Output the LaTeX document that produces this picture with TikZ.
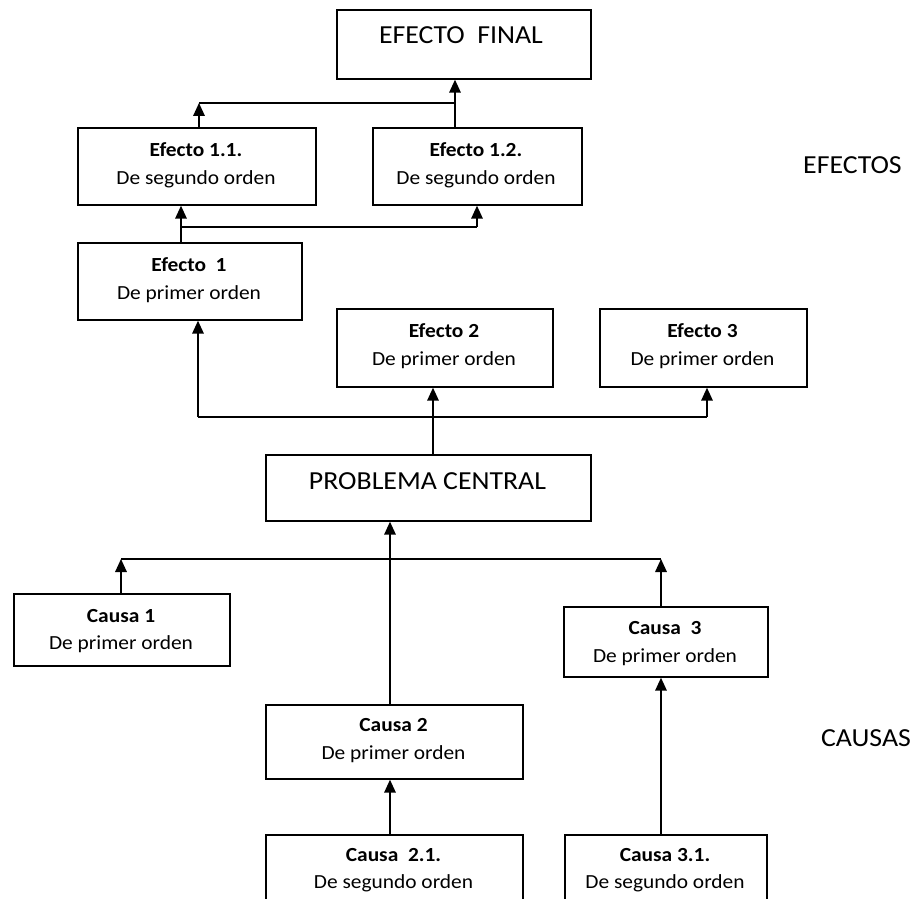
\documentclass[tikz,border=0pt]{standalone}
\usepackage{fontspec}
\setmainfont{Carlito}[FakeStretch=1.07]
\usetikzlibrary{arrows.meta}
\begin{document}
\begin{tikzpicture}[x=1pt,y=-1pt,
  box/.style={draw, line width=1.7pt, inner sep=0pt, anchor=north west},
  small/.style={font=\fontsize{20}{24}\selectfont, inner sep=0pt, anchor=base},
  smallb/.style={font=\fontsize{20}{24}\selectfont\bfseries, inner sep=0pt, anchor=base},
  big/.style={font=\fontsize{26}{30}\selectfont, inner sep=0pt, anchor=base},
  conn/.style={line width=1.7pt},
  arr/.style={line width=1.7pt, -{Triangle[length=13pt,width=11.5pt]}}]
\useasboundingbox (0,0) rectangle (914,899);
\fill[white] (0,0) rectangle (914,899);
\clip (0,0) rectangle (914,899);

% boxes
\node[box, minimum width=254pt, minimum height=69pt] (ef) at (336,9) {};
\node[box, minimum width=238pt, minimum height=77pt] (e11) at (77,127) {};
\node[box, minimum width=209pt, minimum height=77pt] (e12) at (372,127) {};
\node[box, minimum width=224pt, minimum height=77pt] (e1) at (77,242) {};
\node[box, minimum width=216pt, minimum height=78pt] (e2) at (336,308) {};
\node[box, minimum width=207pt, minimum height=78pt] (e3) at (599,308) {};
\node[box, minimum width=325pt, minimum height=66pt] (pc) at (265,454) {};
\node[box, minimum width=216pt, minimum height=72pt] (c1) at (13,593) {};
\node[box, minimum width=204pt, minimum height=70pt] (c3) at (563,606) {};
\node[box, minimum width=257pt, minimum height=74pt] (c2) at (265,704) {};
\node[box, minimum width=257pt, minimum height=78pt] (c21) at (265,834) {};
\node[box, minimum width=202pt, minimum height=78pt] (c31) at (564,834) {};

% texts
\node[big] (eft) at (461,44) {EFECTO~~FINAL};
\node[big] (pct) at (427.5,489) {PROBLEMA CENTRAL};
\node[big] (efectos) at (852.5,173) {EFECTOS};
\node[big] (causas) at (866,746) {CAUSAS};

\node[smallb] (e11a) at (196,157) {Efecto 1.1.};
\node[small]  (e11b) at (196,184.5) {De segundo orden};
\node[smallb] (e12a) at (476,157) {Efecto 1.2.};
\node[small]  (e12b) at (476,184.5) {De segundo orden};
\node[smallb] (e1a) at (189,271) {Efecto~~1};
\node[small]  (e1b) at (189,299) {De primer orden};
\node[smallb] (e2a) at (444,337) {Efecto 2};
\node[small]  (e2b) at (444,365) {De primer orden};
\node[smallb] (e3a) at (702.5,337) {Efecto 3};
\node[small]  (e3b) at (702.5,365) {De primer orden};
\node[smallb] (c1a) at (121,622) {Causa 1};
\node[small]  (c1b) at (121,649) {De primer orden};
\node[smallb] (c3a) at (665,634) {Causa~~3};
\node[small]  (c3b) at (665,662) {De primer orden};
\node[smallb] (c2a) at (393.5,731) {Causa 2};
\node[small]  (c2b) at (393.5,759) {De primer orden};
\node[smallb] (c21a) at (393.5,861) {Causa~~2.1.};
\node[small]  (c21b) at (393.5,888) {De segundo orden};
\node[smallb] (c31a) at (665,861) {Causa 3.1.};
\node[small]  (c31b) at (665,888) {De segundo orden};

% junction coordinates
\coordinate (j1) at (199,103);
\coordinate (j1r) at (455,103);
\coordinate (j2) at (181,227);
\coordinate (j2r) at (477,227);
\coordinate (j3) at (198,417);
\coordinate (j3m) at (433,417);
\coordinate (j3r) at (707,417);
\coordinate (j4) at (121,559);
\coordinate (j4r) at (661,559);
\coordinate (j5) at (390,559);

% connectors: effects
\draw[arr] (j1r |- e12.north) -- (j1r |- ef.south);
\draw[conn] (j1) -- (j1r);
\draw[arr] (j1 |- e11.north) -- (j1);
\draw[conn] (j2 |- e1.north) -- (j2) -- (j2r);
\draw[arr] (j2) -- (j2 |- e11.south);
\draw[arr] (j2r) -- (j2r |- e12.south);
\draw[conn] (j3) -- (j3r);
\draw[arr] (j3) -- (j3 |- e1.south);
\draw[arr] (j3r) -- (j3r |- e3.south);
\draw[arr] (j3m |- pc.north) -- (j3m |- e2.south);

% connectors: causes
\draw[conn] (j4) -- (j4r);
\draw[arr] (j4 |- c1.north) -- (j4);
\draw[arr] (j4r |- c3.north) -- (j4r);
\draw[arr] (j5 |- c2.north) -- (j5 |- pc.south);
\draw[arr] (j5 |- c21.north) -- (j5 |- c2.south);
\draw[arr] (j4r |- c31.north) -- (j4r |- c3.south);
\end{tikzpicture}
\end{document}
